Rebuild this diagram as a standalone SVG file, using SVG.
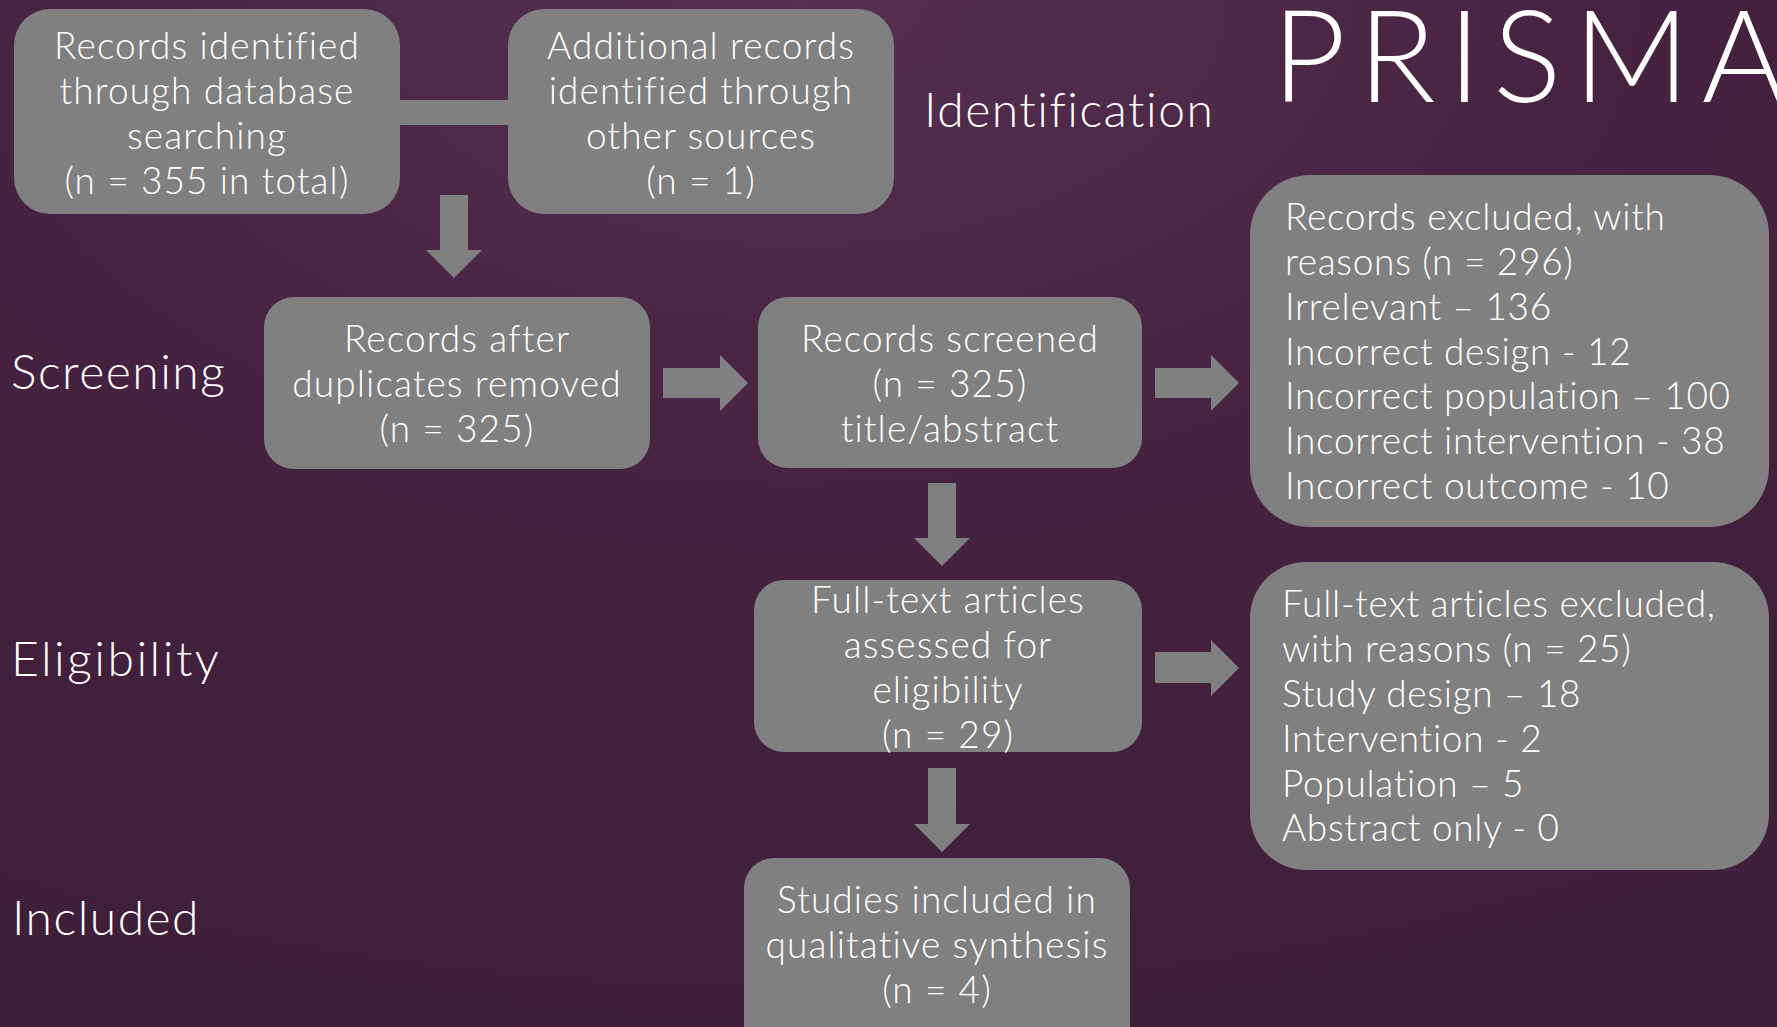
<svg xmlns="http://www.w3.org/2000/svg" width="1777" height="1027" viewBox="0 0 1777 1027">
<defs>
<radialGradient id="bg" cx="0.45" cy="0" r="1.1" gradientUnits="objectBoundingBox">
<stop offset="0" stop-color="#562f51"/>
<stop offset="0.45" stop-color="#45223f"/>
<stop offset="1" stop-color="#3d1e37"/>
</radialGradient>
<style>
.box{fill:#808080}
.arr{fill:#808080}
text{font-variant-ligatures:none;fill:#ffffff;font-family:Lato,"Open Sans","Liberation Sans",sans-serif;font-weight:300}
.t{font-size:37px;letter-spacing:1.1px}
.l{letter-spacing:0.7px}
.c{text-anchor:middle}
.ph{font-size:48px;letter-spacing:1.5px}
.title{font-size:128px;letter-spacing:12px}
</style>
</defs>
<rect x="0" y="0" width="1777" height="1027" fill="url(#bg)"/>
<text class="title" x="1272" y="102">PRISMA</text>
<text class="ph" x="924" y="127">Identification</text>
<text class="ph" x="11" y="389">Screening</text>
<text class="ph" x="11" y="676" style="letter-spacing:2.5px">Eligibility</text>
<text class="ph" x="12" y="935">Included</text>

<g id="connectors">
<rect class="arr" x="398" y="100" width="112" height="25"/>
<polygon class="arr" points="440,195 468,195 468,250 482,250 454,278 426,250 440,250"/>
<polygon class="arr" points="663,368 720,368 720,355 748,383 720,411 720,398 663,398"/>
<polygon class="arr" points="1155,368 1211,368 1211,355 1239,383 1211,411 1211,398 1155,398"/>
<polygon class="arr" points="928,483 956,483 956,538 970,538 942,566 914,538 928,538"/>
<polygon class="arr" points="928,768 956,768 956,824 970,824 942,852 914,824 928,824"/>
<polygon class="arr" points="1155,652 1211,652 1211,640 1239,668 1211,696 1211,683 1155,683"/>
</g>

<g id="n1">
<rect class="box" x="14" y="9" width="386" height="205" rx="36"/>
<text class="t c" x="207" y="59">Records identified</text>
<text class="t c" x="207" y="104">through database</text>
<text class="t c" x="207" y="149">searching</text>
<text class="t c" x="207" y="194">(n = 355 in total)</text>
</g>
<g id="n2">
<rect class="box" x="508" y="9" width="386" height="205" rx="36"/>
<text class="t c" x="701" y="59">Additional records</text>
<text class="t c" x="701" y="104">identified through</text>
<text class="t c" x="701" y="149">other sources</text>
<text class="t c" x="701" y="194">(n = 1)</text>
</g>
<g id="n3">
<rect class="box" x="264" y="297" width="386" height="172" rx="30"/>
<text class="t c" x="457" y="352">Records after</text>
<text class="t c" x="457" y="397">duplicates removed</text>
<text class="t c" x="457" y="442">(n = 325)</text>
</g>
<g id="n4">
<rect class="box" x="758" y="297" width="384" height="171" rx="30"/>
<text class="t c" x="950" y="352">Records screened</text>
<text class="t c" x="950" y="397">(n = 325)</text>
<text class="t c" x="950" y="442">title/abstract</text>
</g>
<g id="n5">
<rect class="box" x="754" y="580" width="388" height="172" rx="30"/>
<text class="t c" x="948" y="613">Full-text articles</text>
<text class="t c" x="948" y="658">assessed for</text>
<text class="t c" x="948" y="703">eligibility</text>
<text class="t c" x="948" y="748">(n = 29)</text>
</g>
<g id="n6">
<rect class="box" x="744" y="858" width="386" height="220" rx="30"/>
<text class="t c" x="937" y="913">Studies included in</text>
<text class="t c" x="937" y="958">qualitative synthesis</text>
<text class="t c" x="937" y="1003">(n = 4)</text>
</g>
<g id="ex1">
<rect class="box" x="1250" y="175" width="519" height="352" rx="60"/>
<text class="t l" x="1285" y="230">Records excluded, with</text>
<text class="t l" x="1285" y="275">reasons (n = 296)</text>
<text class="t l" x="1285" y="320">Irrelevant – 136</text>
<text class="t l" x="1285" y="365">Incorrect design - 12</text>
<text class="t l" x="1285" y="409">Incorrect population – 100</text>
<text class="t l" x="1285" y="454">Incorrect intervention - 38</text>
<text class="t l" x="1285" y="499">Incorrect outcome - 10</text>
</g>
<g id="ex2">
<rect class="box" x="1250" y="562" width="519" height="308" rx="56"/>
<text class="t l" x="1282" y="617">Full-text articles excluded,</text>
<text class="t l" x="1282" y="662">with reasons (n = 25)</text>
<text class="t l" x="1282" y="707">Study design – 18</text>
<text class="t l" x="1282" y="752">Intervention - 2</text>
<text class="t l" x="1282" y="797">Population – 5</text>
<text class="t l" x="1282" y="841">Abstract only - 0</text>
</g>
</svg>
